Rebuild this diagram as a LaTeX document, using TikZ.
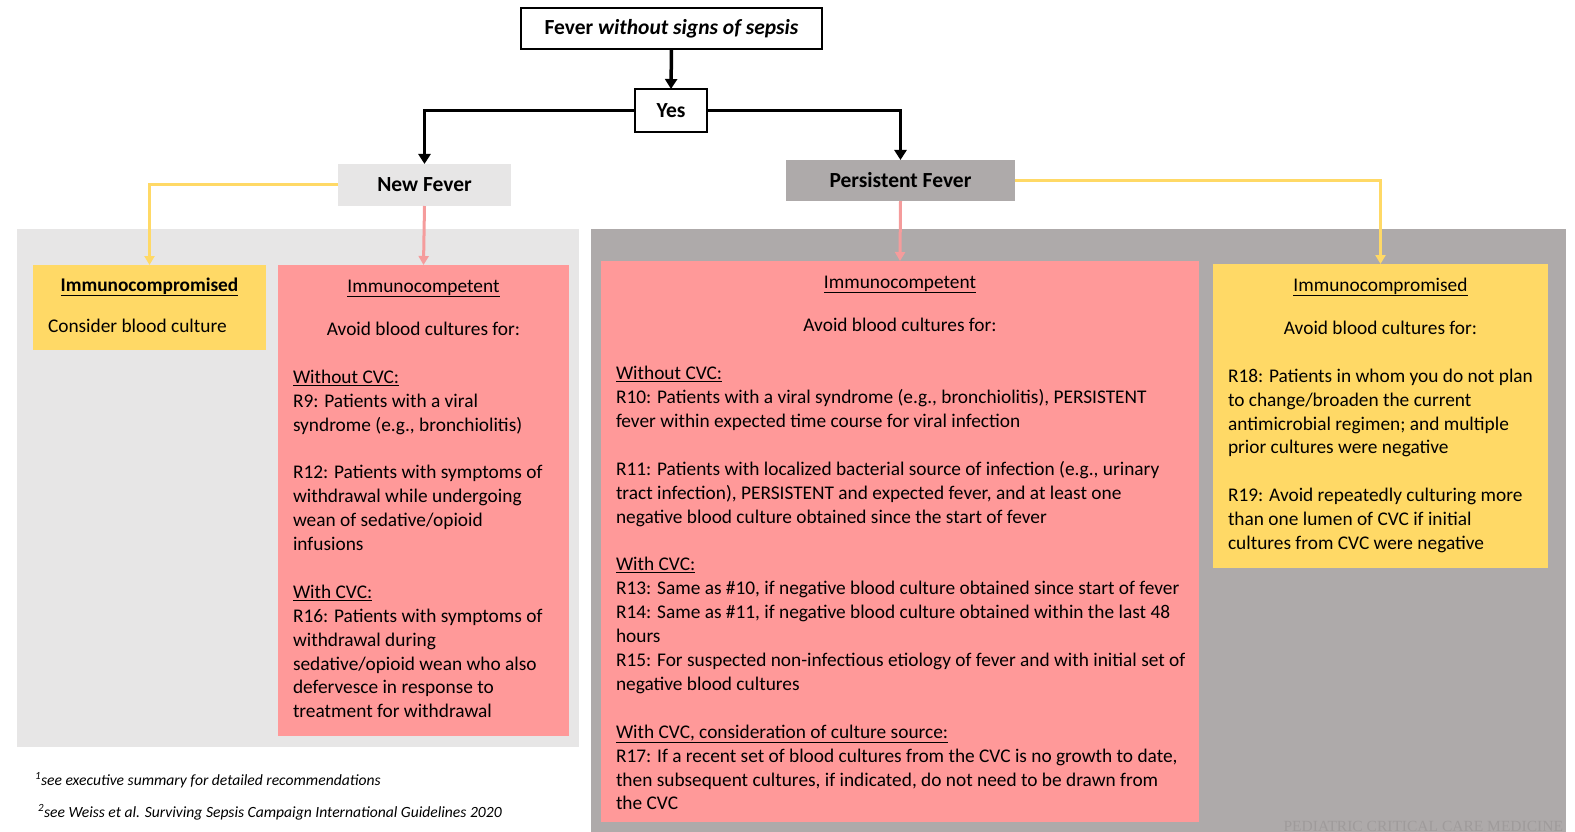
\documentclass[tikz,border=0pt]{standalone}
\usepackage{fontspec}
\setmainfont{Carlito}
\newfontfamily\wmfont{Liberation Serif}
\usetikzlibrary{arrows.meta}
\definecolor{pinkc}{HTML}{FF9999}
\definecolor{pinkarr}{HTML}{F59C9C}
\definecolor{yelc}{HTML}{FFD966}
\definecolor{lgray}{HTML}{E7E6E6}
\definecolor{dgray}{HTML}{AEAAAA}
\definecolor{wmgray}{HTML}{9F9B9B}
\tikzset{
  plain/.style={inner sep=0pt, outer sep=0pt},
  framebox/.style={plain, draw=black, line width=1.8pt, fill=white, font=\bfseries\fontsize{21.5}{25}\selectfont},
  headbox/.style={plain, font=\bfseries\fontsize{21.5}{25}\selectfont},
  panel/.style={plain},
  body/.style={plain, align=left, anchor=north west, font=\fontsize{19.35}{23.9}\selectfont},
  line1/.style={plain, anchor=base, font=\fontsize{19.35}{23.9}\selectfont},
  foot/.style={plain, anchor=base west, font=\itshape\fontsize{15.6}{18}\selectfont},
  blk/.style={line width=3.5pt, -{Triangle[length=10pt,width=12pt]}},
  yel/.style={draw=yelc, line width=3pt, -{Triangle[length=9pt,width=10pt]}},
  pnk/.style={draw=pinkarr, line width=3pt, -{Triangle[length=9pt,width=10pt]}}
}
\begin{document}
\begin{tikzpicture}[x=1pt,y=-1pt]
\useasboundingbox (0,0) rectangle (1575,832);
% panels
\fill[lgray] (17,229) rectangle (579,747);
\fill[dgray] (591,229) rectangle (1566,832);
% content boxes
\node[panel, fill=yelc, minimum width=233pt, minimum height=85pt] (immL) at (149.5,307.5) {};
\node[panel, fill=pinkc, minimum width=291pt, minimum height=471pt] (compL) at (423.5,500.5) {};
\node[panel, fill=pinkc, minimum width=598pt, minimum height=561pt] (compM) at (900,541.5) {};
\node[panel, fill=yelc, minimum width=335pt, minimum height=304pt] (immR) at (1380.5,416) {};
% top nodes
\node[framebox, minimum width=301pt, minimum height=41pt] (top) at (671.5,28.5) {\raisebox{-1.5pt}{Fever \textit{without signs of sepsis}}};
\node[framebox, minimum width=72pt, minimum height=43pt] (yes) at (671,110.5) {Yes};
\node[headbox, fill=lgray, minimum width=173pt, minimum height=42pt] (newf) at (424.5,185) {New Fever};
\node[headbox, fill=dgray, minimum width=229pt, minimum height=41pt] (pers) at (900.5,180.5) {Persistent Fever};
% connectors
\draw[blk] (top.south) -- (yes.north);
\draw[blk] (yes.west) -| (newf.north);
\draw[blk] (yes.east) -| (pers.north);
\draw[yel] (newf.west) -| (immL.north);
\draw[pnk] (newf.south) -- (compL.north);
\draw[pnk] (pers.south) -- (compM.north);
\draw[yel] (pers.east) -| (immR.north);
% left yellow text
\node[line1, font=\bfseries\fontsize{19.35}{23.9}\selectfont] (immLh) at (149.5,291) {\underline{Immunocompromised}};
\node[line1, anchor=base west] (immLt) at (48,332) {Consider blood culture};
% left pink text
\node[line1] (compLh) at (423.5,292) {\underline{Immunocompetent}};
\node[line1] (compLa) at (423.5,335) {Avoid blood cultures for:};
\node[body] (compLb) at (293,366.5) {\strut\underline{Without CVC:}\\
R9: Patients with a viral\\
syndrome (e.g., bronchiolitis)\\[23.9pt]
R12: Patients with symptoms of\\
withdrawal while undergoing\\
wean of sedative/opioid\\
infusions\\[23.9pt]
\underline{With CVC:}\\
R16: Patients with symptoms of\\
withdrawal during\\
sedative/opioid wean who also\\
defervesce in response to\\
treatment for withdrawal};
% middle pink text
\node[line1] (compMh) at (900,288) {\underline{Immunocompetent}};
\node[line1] (compMa) at (900,331) {Avoid blood cultures for:};
\node[body] (compMb) at (616,363) {\strut\underline{Without CVC:}\\
R10: Patients with a viral syndrome (e.g., bronchiolitis), PERSISTENT\\
fever within expected time course for viral infection\\[23.9pt]
R11: Patients with localized bacterial source of infection (e.g., urinary\\
tract infection), PERSISTENT and expected fever, and at least one\\
negative blood culture obtained since the start of fever\\[23.9pt]
\underline{With CVC:}\\
R13: Same as \#10, if negative blood culture obtained since start of fever\\
R14: Same as \#11, if negative blood culture obtained within the last 48\\
hours\\
R15: For suspected non-infectious etiology of fever and with initial set of\\
negative blood cultures\\[23.9pt]
\underline{With CVC, consideration of culture source:}\\
R17: If a recent set of blood cultures from the CVC is no growth to date,\\
then subsequent cultures, if indicated, do not need to be drawn from\\
the CVC};
% right yellow text
\node[line1] (immRh) at (1380.5,291) {\underline{Immunocompromised}};
\node[line1] (immRa) at (1380.5,334.5) {Avoid blood cultures for:};
\node[body] (immRb) at (1228,365.5) {\strut R18: Patients in whom you do not plan\\
to change/broaden the current\\
antimicrobial regimen; and multiple\\
prior cultures were negative\\[23.9pt]
R19: Avoid repeatedly culturing more\\
than one lumen of CVC if initial\\
cultures from CVC were negative};
% footnotes
\node[foot] (fn1) at (35,785) {\textsuperscript{1}see executive summary for detailed recommendations};
\node[foot] (fn2) at (38,817) {\textsuperscript{2}see Weiss et al. Surviving Sepsis Campaign International Guidelines 2020};
% watermark
\node[plain, anchor=base east, text=wmgray, font=\wmfont\fontsize{15.5}{17}\selectfont] (wm) at (1563,831) {PEDIATRIC CRITICAL CARE MEDICINE};
\end{tikzpicture}
\end{document}
